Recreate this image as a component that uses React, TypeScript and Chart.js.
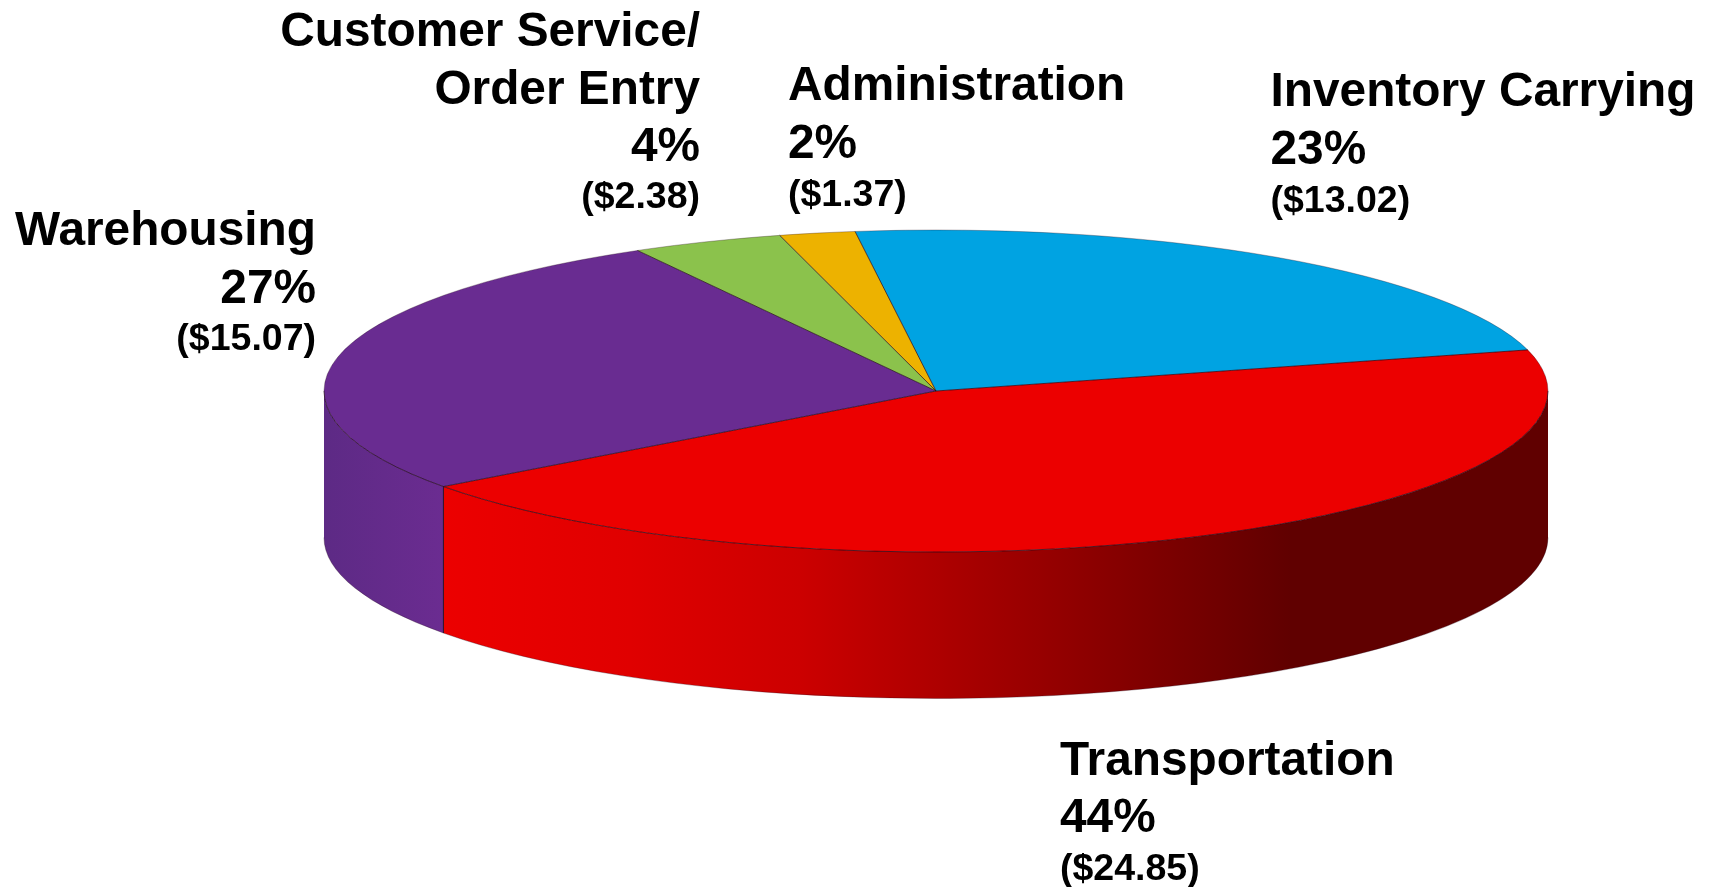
import React, { useEffect, useRef } from "react";
import { Chart, registerables } from "chart.js";

Chart.register(...registerables);

const categories = ["Inventory Carrying", "Transportation", "Warehousing", "Customer Service/ Order Entry", "Administration"];
const shares = [23, 44, 27, 4, 2];
const sliceColors = ["#00a3e2", "#ec0000", "#692c91", "#8bc24c", "#edb200"];

const nameLines = [["Inventory Carrying"], ["Transportation"], ["Warehousing"], ["Customer Service/", "Order Entry"], ["Administration"]];
const percentLabels = ["23%", "44%", "27%", "4%", "2%"];
const amountLabels = ["($13.02)", "($24.85)", "($15.07)", "($2.38)", "($1.37)"];

// Layout of the label blocks: anchor x, one baseline per line, text alignment
const labelAnchors = [1270.5, 1060, 316, 700, 788];
const labelBaselines = [
  [106, 164, 212],
  [775, 832, 880],
  [245, 303, 350],
  [46, 104, 161, 208],
  [100, 158, 206],
];
const labelAligns: CanvasTextAlign[] = ["left", "left", "right", "right", "left"];

// Side wall gradient stops (fraction across the pie, colour)
const wallStops: [number, string][][] = [
  [[0, "#00a3e2"], [1, "#00a3e2"]],
  [[0.098, "#ec0000"], [0.25, "#e00000"], [0.389, "#cc0000"], [0.552, "#a00000"], [0.675, "#7f0000"], [0.79, "#600000"], [1, "#600000"]],
  [[0, "#5d2a85"], [0.098, "#6b2c91"]],
  [[0, "#8bc24c"], [1, "#8bc24c"]],
  [[0, "#edb200"], [1, "#edb200"]],
];

const W = 1713;
const H = 887;
const RX = 612;
const RY = 161;
const DEPTH = 146.5;
const EDGE = "rgba(35,10,25,0.75)";
const SOFT_EDGE = "rgba(35,10,25,0.3)";

const pie3d = {
  id: "pie3d",
  beforeDatasetDraw(chart: any) {
    const ctx = chart.ctx;
    const arcs = chart.getDatasetMeta(0).data;
    arcs.forEach((arc: any, i: number) => {
      const { x, y, startAngle, endAngle } = arc;
      for (const k of [-1, 0, 1]) {
        const a = Math.max(startAngle, k * 2 * Math.PI);
        const b = Math.min(endAngle, k * 2 * Math.PI + Math.PI);
        if (a >= b) continue;
        const grad = ctx.createLinearGradient(x - RX, 0, x + RX, 0);
        wallStops[i].forEach(([f, c]) => grad.addColorStop(f, c));
        ctx.beginPath();
        ctx.ellipse(x, y, RX, RY, 0, a, b);
        ctx.ellipse(x, y + DEPTH, RX, RY, 0, b, a, true);
        ctx.closePath();
        ctx.fillStyle = grad;
        ctx.fill();
        ctx.lineWidth = 1;
        ctx.strokeStyle = SOFT_EDGE;
        ctx.beginPath();
        ctx.ellipse(x, y + DEPTH, RX, RY, 0, a, b);
        ctx.stroke();
        // vertical seam where a front slice begins after the wall's start
        if (a > k * 2 * Math.PI && a < k * 2 * Math.PI + Math.PI) {
          const sx = x + RX * Math.cos(a);
          const sy = y + RY * Math.sin(a);
          ctx.strokeStyle = EDGE;
          ctx.beginPath();
          ctx.moveTo(sx, sy);
          ctx.lineTo(sx, sy + DEPTH);
          ctx.stroke();
        }
        if (b < k * 2 * Math.PI + Math.PI) {
          const sx = x + RX * Math.cos(b);
          const sy = y + RY * Math.sin(b);
          ctx.strokeStyle = EDGE;
          ctx.beginPath();
          ctx.moveTo(sx, sy);
          ctx.lineTo(sx, sy + DEPTH);
          ctx.stroke();
        }
      }
    });
    const { x, y } = arcs[0];
    ctx.save();
    ctx.translate(x, y);
    ctx.scale(1, RY / RX);
    ctx.translate(-x, -y);
  },
  afterDatasetDraw(chart: any) {
    const ctx = chart.ctx;
    ctx.restore();
    ctx.lineWidth = 1;
    const arcs = chart.getDatasetMeta(0).data;
    const { x, y } = arcs[0];
    ctx.strokeStyle = SOFT_EDGE;
    ctx.beginPath();
    ctx.ellipse(x, y, RX, RY, 0, Math.PI, 2 * Math.PI);
    ctx.stroke();
    ctx.strokeStyle = EDGE;
    ctx.beginPath();
    ctx.ellipse(x, y, RX, RY, 0, 0, Math.PI);
    ctx.stroke();
    arcs.forEach((arc: any) => {
      ctx.beginPath();
      ctx.moveTo(arc.x, arc.y);
      ctx.lineTo(arc.x + RX * Math.cos(arc.startAngle), arc.y + RY * Math.sin(arc.startAngle));
      ctx.stroke();
    });
  },
  afterDraw(chart: any) {
    const ctx = chart.ctx;
    ctx.save();
    ctx.fillStyle = "#000";
    ctx.textBaseline = "alphabetic";
    categories.forEach((_, i) => {
      const lines = [...nameLines[i], percentLabels[i], amountLabels[i]];
      ctx.textAlign = labelAligns[i];
      lines.forEach((text, j) => {
        const small = j === lines.length - 1;
        ctx.font = `bold ${small ? 37.5 : 47.8}px "Liberation Sans", Arial, sans-serif`;
        ctx.fillText(text, labelAnchors[i], labelBaselines[i][j]);
      });
    });
    ctx.restore();
  },
};

export default function App() {
  const ref = useRef<HTMLCanvasElement>(null);
  useEffect(() => {
    const chart = new Chart(ref.current!, {
      type: "pie",
      data: {
        labels: categories,
        datasets: [
          {
            data: shares,
            backgroundColor: sliceColors,
            borderWidth: 0,
            radius: RX,
            clip: false,
          } as any,
        ],
      },
      options: {
        animation: false,
        responsive: false,
        rotation: -7.6,
        layout: { padding: { left: 159, right: 0, top: 0, bottom: 105 } },
        plugins: { legend: { display: false }, tooltip: { enabled: false }, title: { display: false } },
      },
      plugins: [pie3d],
    });
    return () => chart.destroy();
  }, []);
  return (
    <div style={{ position: "fixed", left: 0, top: 0, width: W, height: H, background: "#fff" }}>
      <canvas ref={ref} width={W} height={H} style={{ display: "block" }} />
    </div>
  );
}
